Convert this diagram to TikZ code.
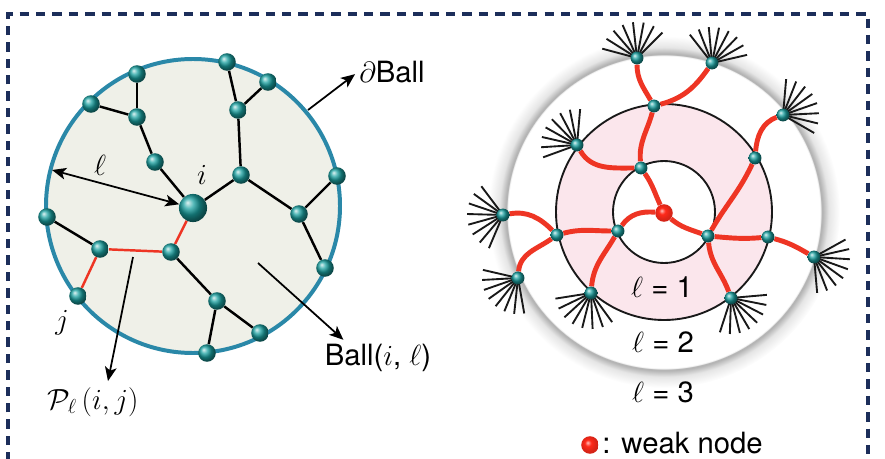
\documentclass[tikz,border=0pt]{standalone}
\usepackage{fontspec}
\setmainfont{TeX Gyre Heros}
\usepackage{tikz}
\usetikzlibrary{calc,arrows.meta}
\definecolor{figNavy}{HTML}{1C2E5A}
\definecolor{figTeal}{HTML}{1AA0A0}
\definecolor{figRim}{HTML}{2A88A8}
\definecolor{figPaper}{HTML}{EFF0E8}
\definecolor{figRed}{HTML}{EE3524}
\definecolor{figWeak}{HTML}{FF2A1A}
\definecolor{figPink}{HTML}{FBE6EC}
\pgfdeclarelayer{base}
\pgfdeclarelayer{edges}
\pgfsetlayers{base,edges,main}
\pgfdeclareradialshading{halo}{\pgfpoint{0bp}{0bp}}{color(0bp)=(white); color(22.2bp)=(white); color(22.4bp)=(black!32); color(23.4bp)=(black!10); color(25bp)=(white); color(50bp)=(white)}
\pgfdeclareradialshading{weakball}{\pgfpoint{-7bp}{7bp}}{color(0bp)=(figWeak!30!white); color(9bp)=(figWeak); color(22bp)=(figWeak!85!black); color(50bp)=(figWeak!70!black)}

\begin{document}
\begin{tikzpicture}[
  x=0.3mm, y=0.3mm,
  every node/.style={font=\fontsize{25}{30}\selectfont},
  bead/.style={circle, inner sep=0pt, minimum size=#1, ball color=figTeal},
  bead/.default=15pt,
  weak/.style={circle, inner sep=0pt, minimum size=15pt, shading=weakball},
  link/.style={line width=2.1pt, #1},
  link/.default=black,
  bond/.style={line width=4.2pt, figRed},
  spoke/.style={line width=1.6pt, black!90},
  ringline/.style={line width=1.6pt, black!90},
  pointer/.style={-{Stealth[length=12pt, width=10pt, inset=3pt]}, line width=1.5pt},
  twoway/.style={{Stealth[length=12pt, width=10pt, inset=3pt]}-{Stealth[length=12pt, width=10pt, inset=3pt]}, line width=1.5pt},
  tag/.style={inner sep=1pt},
  frame/.style={figNavy, line width=2.6pt, dash pattern=on 8pt off 6pt},
]
\useasboundingbox (0,0) rectangle (885,458);
\clip (0,0) rectangle (885,458);

% Frame
\draw[frame] (8,-20) |- (868,444) -- (868,-20);

% === Ball (left) ===
\coordinate (ball-c) at (193,252);
\begin{pgfonlayer}{base}
  \filldraw[fill=figPaper, draw=figRim, line width=3.4pt] (ball-c) circle (147);
\end{pgfonlayer}

\node[bead=24pt] (i) at (193,250) {};
\node[bead] (n1) at (227,396) {};
\node[bead] (n2) at (268,376) {};
\node[bead] (n3) at (137,384) {};
\node[bead] (n4) at (91,354) {};
\node[bead] (n5) at (137,341) {};
\node[bead] (n6) at (238,348) {};
\node[bead] (n7) at (155,296) {};
\node[bead] (n8) at (241,283) {};
\node[bead] (n9) at (337,282) {};
\node[bead] (n10) at (299,244) {};
\node[bead] (n11) at (47,241) {};
\node[bead] (n12) at (100,209) {};
\node[bead] (n13) at (171,206) {};
\node[bead] (j) at (78,162) {};
\node[bead] (n14) at (217,157) {};
\node[bead] (n15) at (260,125) {};
\node[bead] (n16) at (207,105) {};
\node[bead] (n17) at (325,190) {};

\begin{pgfonlayer}{edges}
  \draw[link] (n3) -- (n5);
  \draw[link] (n4) -- (n5);
  \draw[link] (n5) -- (n7);
  \draw[link] (n7) -- (i);
  \draw[link] (n1) -- (n6);
  \draw[link] (n2) -- (n6);
  \draw[link] (n6) -- (n8);
  \draw[link] (n8) -- (i);
  \draw[link] (n8) -- (n10);
  \draw[link] (n10) -- (n9);
  \draw[link] (n10) -- (n17);
  \draw[link] (n11) -- (n12);
  \draw[link] (n13) -- (n14);
  \draw[link] (n14) -- (n15);
  \draw[link] (n14) -- (n16);
  \draw[link=figRed] (i) -- (n13) -- (n12) -- (j);
\end{pgfonlayer}

\node[tag] (i-lab) at (202,283) {$i$};
\node[tag] (j-lab) at (62,135) {$j$};
\node[tag] (ell-lab) at (100,293) {$\ell$};
\node[tag] (dball) at (392,386) {$\partial$Ball};
\node[tag] (ball-lab) at (378,100) {Ball($i$, $\ell$)};
\node[tag] (path-lab) at (93,56) {$\mathcal{P}_{\ell}\,(i, j)$};

\coordinate (rim-w) at (52,288);
\coordinate (rim-ne) at (308,348);
\coordinate (ball-in) at (258,195);
\coordinate (path-mid) at (133,201);
\draw[twoway] (rim-w) -- (i);
\draw[pointer, shorten >=3pt] (rim-ne) -- (dball.west);
\draw[pointer] (ball-in) -- ($(ball-lab.north west)+(20,3)$);
\draw[pointer] (path-mid) -- ($(path-lab.north)+(15,5)$);

% === Rings (right) ===
\coordinate (ring-c) at (664,246);
\begin{pgfonlayer}{base}
  \shade[shading=halo] (ring-c) circle (176);
  \fill[figPink] (ring-c) circle (108);
  \fill[white] (ring-c) circle (51);
  \draw[ringline] (ring-c) circle (108);
  \draw[ringline] (ring-c) circle (51);
\end{pgfonlayer}

\node[bead=11pt] (r1) at (637,400) {};
\node[bead=11pt] (r2) at (712,395) {};
\node[bead=11pt] (r3) at (654,352) {};
\node[bead=11pt] (r4) at (577,313) {};
\node[bead=11pt] (r5) at (641,290) {};
\node[bead=11pt] (r6) at (783,343) {};
\node[bead=11pt] (r7) at (755,300) {};
\node[weak] (w) at (664,245) {};
\node[bead=11pt] (r8) at (503,243) {};
\node[bead=11pt] (r9) at (557,223) {};
\node[bead=11pt] (r10) at (618,227) {};
\node[bead=11pt] (r11) at (708,222) {};
\node[bead=11pt] (r12) at (768,221) {};
\node[bead=11pt] (r13) at (814,201) {};
\node[bead=11pt] (r14) at (518,180) {};
\node[bead=11pt] (r15) at (591,165) {};
\node[bead=11pt] (r16) at (731,160) {};

\begin{pgfonlayer}{edges}
  \draw[bond] (r1) to[out=270, in=120] (r3);
  \draw[bond] (r2) to[out=235, in=15] (r3);
  \draw[bond] (r3) to[out=255, in=95] (r5);
  \draw[bond] (r4) to[out=300, in=180] (r5);
  \draw[bond] (r5) to[out=305, in=115] (w);
  \draw[bond] (w) to[out=175, in=55] (r10);
  \draw[bond] (w) to[out=320, in=160] (r11);
  \draw[bond] (r6) to[out=200, in=85] (r7);
  \draw[bond] (r7) to[out=245, in=60] (r11);
  \draw[bond] (r8) to[out=10, in=135] (r9);
  \draw[bond] (r9) to[out=15, in=180] (r10);
  \draw[bond] (r9) to[out=215, in=85] (r14);
  \draw[bond] (r10) to[out=240, in=85] (r15);
  \draw[bond] (r11) to[out=355, in=185] (r12);
  \draw[bond] (r11) to[out=275, in=110] (r16);
  \draw[bond] (r12) to[out=345, in=150] (r13);
  % fans of outer links
  \foreach \n/\a/\b in {r1/45/165, r2/13/128, r4/85/200, r6/-30/85, r8/127/247,
                        r13/-85/29, r14/167/280, r15/189/306, r16/252/365} {
    \foreach \k in {0,...,7}
      \draw[spoke] (\n.center) -- ++({\a+\k*(\b-\a)/7}:36);
  }
\end{pgfonlayer}

\node[tag] (ring1) at (662,171) {$\ell$ = 1};
\node[tag] (ring2) at (663,116) {$\ell$ = 2};
\node[tag] (ring3) at (663,66) {$\ell$ = 3};

% Legend
\node[weak] (weak-key) at (590,13) {};
\node[tag, anchor=base west] (weak-txt) at (601,5) {: weak node};
\end{tikzpicture}
\end{document}
